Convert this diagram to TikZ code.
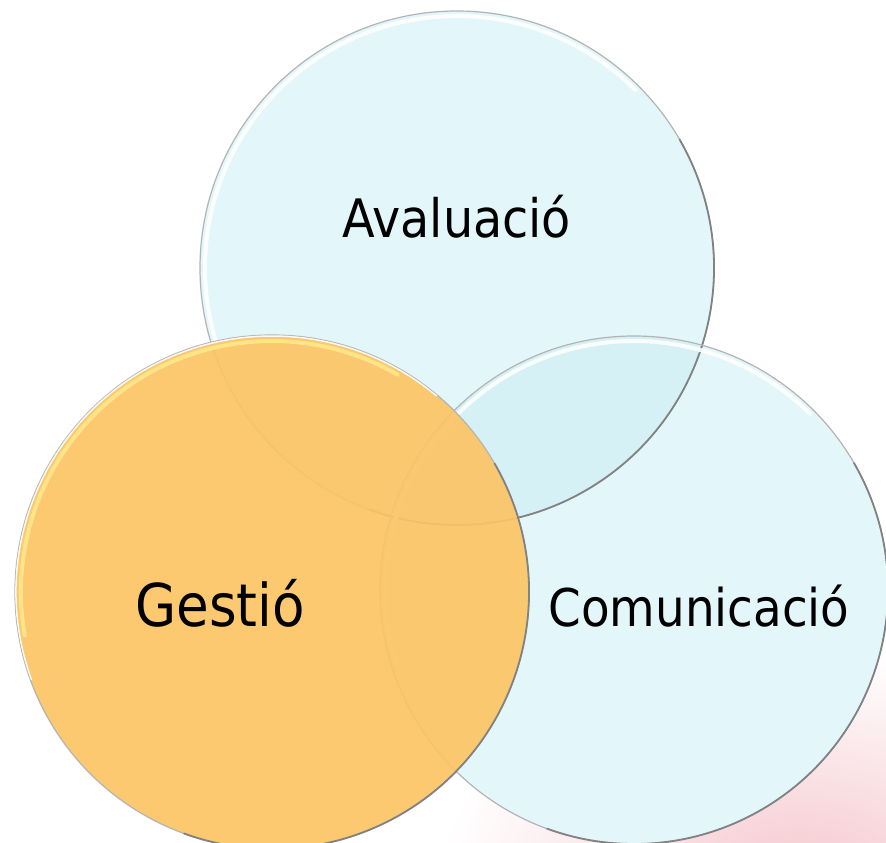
\documentclass[tikz,border=0pt]{standalone}
\usepackage{fontspec}
\setmainfont{DejaVu Sans Condensed}
\definecolor{circcyan}{RGB}{227,247,250}
\definecolor{overcyan}{RGB}{214,241,245}
\definecolor{circorange}{RGB}{252,196,100}
\definecolor{glossyellow}{RGB}{255,232,140}
\definecolor{rimgray}{RGB}{130,130,130}
\definecolor{bgpink}{RGB}{245,200,206}

\tikzset{
  rim/.style={draw=rimgray!60, line width=1.2pt},
  gloss/.style={draw=white, line width=4pt, line cap=round, opacity=0.9},
  shadowrim/.style={draw=rimgray, line width=1.8pt, line cap=round},
  vennlabel/.style={text=black, inner sep=0pt, anchor=base}
}

\begin{document}
\begin{tikzpicture}[x=1pt,y=-1pt]
    \useasboundingbox (0,0) rectangle (886,843);
    \fill[white] (0,0) rectangle (886,843);
    % faint background behind the bottom right
    \shade[inner color=bgpink, outer color=white] (800,880) ellipse (360 and 230);

    % Avaluacio and Comunicacio
    \fill[circcyan] (457,268) circle (257);
    \fill[circcyan] (634,590) circle (254);
    \begin{scope}
      \clip (457,268) circle (257);
      \fill[overcyan] (634,590) circle (254);
    \end{scope}
    \draw[rim] (457,268) circle (257);
    \draw[shadowrim] (457,268) ++(-30:257) arc (-30:110:257);
    \draw[gloss] (457,268) ++(160:252) arc (160:315:252);
    \draw[rim] (634,590) circle (254);
    \draw[shadowrim] (634,590) ++(-30:254) arc (-30:110:254);
    \draw[gloss] (634,590) ++(160:249) arc (160:315:249);

    % Gestio
    \fill[circorange, fill opacity=0.92] (272,592) circle (257);
    \draw[rim] (272,592) circle (257);
    \draw[shadowrim] (272,592) ++(-30:257) arc (-30:110:257);
    \draw[gloss, draw=glossyellow] (272,592) ++(170:251) arc (170:300:251);
    \draw[gloss, line width=1.5pt] (272,592) ++(160:256) arc (160:310:256);

    \node[vennlabel, font=\fontsize{53}{60}\selectfont] (aval) at (457,237) {Avaluació};
    \node[vennlabel, font=\fontsize{59}{66}\selectfont] (gest) at (220,626) {Gestió};
    \node[vennlabel, font=\fontsize{52}{60}\selectfont] (comu) at (699,626) {Comunicació};
\end{tikzpicture}
\end{document}
